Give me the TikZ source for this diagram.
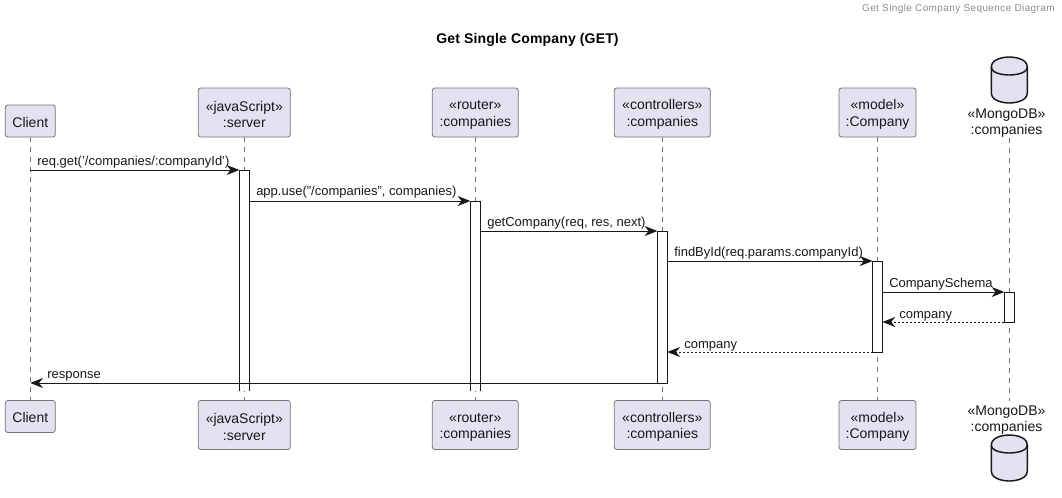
\documentclass[tikz,border=0pt]{standalone}
\usepackage{fontspec}
\setmainfont{Liberation Sans}
\usetikzlibrary{arrows.meta,shapes.geometric,calc}
\definecolor{partfill}{HTML}{E2E2F0}
\definecolor{ink}{HTML}{181818}
\newcommand{\tl}{\rule{0pt}{10.5pt}}
\tikzset{
  x=0.75pt,y=-0.75pt,
  part/.style={draw=ink!60,line width=0.6pt,fill=partfill,rounded corners=1.9pt,inner sep=0pt,align=center,font=\fontsize{10.5}{12.4}\selectfont,text=ink,minimum height=36.75pt},
  onepart/.style={part,minimum height=24pt},
  life/.style={draw=ink!60,line width=0.5pt,dash pattern=on 3.75pt off 3.75pt},
  bar/.style={draw=ink,line width=0.75pt,fill=white,minimum width=7.5pt,inner sep=0pt,outer sep=0pt,anchor=north},
  barline/.style={draw=ink,line width=0.75pt},
  msg/.style={draw=ink,line width=0.75pt,-{Stealth[length=9.5pt,width=7.5pt,inset=3pt,color=ink]}},
  rmsg/.style={msg,dash pattern=on 1.5pt off 1.5pt},
  lab/.style={font=\fontsize{9.75}{11.5}\selectfont,text=ink,inner sep=0pt,anchor=base west},
  dbname/.style={font=\fontsize{10.5}{12.4}\selectfont,text=ink,inner sep=0pt,align=center},
}
\newcommand{\dbcyl}[2]{%
  \path[fill=partfill,draw=ink,line width=1.1pt] (#1-18,#2+10) .. controls (#1-18,#2) and (#1,#2) .. (#1,#2) .. controls (#1,#2) and (#1+18,#2) .. (#1+18,#2+10)
    -- (#1+18,#2+36) .. controls (#1+18,#2+46) and (#1,#2+46) .. (#1,#2+46) .. controls (#1,#2+46) and (#1-18,#2+46) .. (#1-18,#2+36) -- cycle;
  \path[draw=ink,line width=1.1pt] (#1-18,#2+10) .. controls (#1-18,#2+18) and (#1,#2+18) .. (#1,#2+18) .. controls (#1,#2+18) and (#1+18,#2+18) .. (#1+18,#2+10);}
\begin{document}
\begin{tikzpicture}
\useasboundingbox[fill=white] (0,0) rectangle (1062,497);
\node[font=\fontsize{7.5}{9}\selectfont\addfontfeature{LetterSpace=4},text=gray!90,inner sep=0pt,anchor=base east] (hdr) at (1055,11) {Get Single Company Sequence Diagram};
\node[font=\bfseries\fontsize{10.5}{12}\selectfont\addfontfeature{LetterSpace=1.2},text=black,inner sep=0pt,anchor=base] (ttl) at (527.5,43) {Get Single Company (GET)};
% participants top
\node[onepart,minimum width=37.5pt] (clientT) at (30.3,121) {\rule{0pt}{9.5pt}Client};
\node[part,minimum width=69pt] (serverT) at (244.3,112.5) {\tl«javaScript»\\:server};
\node[part,minimum width=64.5pt] (routerT) at (475.3,112.5) {\tl«router»\\:companies};
\node[part,minimum width=72pt] (ctrlT) at (662.3,112.5) {\tl«controllers»\\:companies};
\node[part,minimum width=57.75pt] (modelT) at (877.5,112.5) {\tl«model»\\:Company};
\dbcyl{1009.3}{57}
\node[dbname] (dbT) at (1006.5,123) {«MongoDB»\\:companies};
\coordinate (dbTl) at (1009.3,138);
% participants bottom
\node[onepart,minimum width=37.5pt] (clientB) at (30.3,416.5) {\rule{0pt}{9.5pt}Client};
\node[part,minimum width=69pt] (serverB) at (244.3,425) {\tl«javaScript»\\:server};
\node[part,minimum width=64.5pt] (routerB) at (475.3,425) {\tl«router»\\:companies};
\node[part,minimum width=72pt] (ctrlB) at (662.3,425) {\tl«controllers»\\:companies};
\node[part,minimum width=57.75pt] (modelB) at (877.5,425) {\tl«model»\\:Company};
\node[dbname] (dbB) at (1006.5,420) {«MongoDB»\\:companies};
\coordinate (dbBl) at (1009.3,401);
\dbcyl{1009.3}{435}
% lifelines
\draw[life] (clientT) -- (clientB);
\draw[life] (serverT) -- (serverB);
\draw[life] (routerT) -- (routerB);
\draw[life] (ctrlT) -- (ctrlB);
\draw[life] (modelT) -- (modelB);
\draw[life] (dbTl) -- (dbBl);
% activations
\node[bar,minimum height=165.75pt,draw=none] (serverA) at (244.3,170) {};
\draw[barline] (serverA.south west) -- (serverA.north west) -- (serverA.north east) -- (serverA.south east);
\node[bar,minimum height=142.5pt,draw=none] (routerA) at (475.3,201) {};
\draw[barline] (routerA.south west) -- (routerA.north west) -- (routerA.north east) -- (routerA.south east);
\node[bar,minimum height=114pt] (ctrlA) at (662.3,231) {};
\node[bar,minimum height=68.25pt] (modelA) at (877.5,261) {};
\node[bar,minimum height=22.5pt] (dbA) at (1009.3,292) {};
% messages
\draw[msg] (clientT.south |- serverA.north west) -- (serverA.north west);
\node[lab] (l1) at (37,165) {req.get('/companies/:companyId')};
\draw[msg] (serverA.east |- routerA.north) -- (routerA.north west);
\node[lab] (l2) at (256,195.5) {app.use("/companies", companies)};
\draw[msg] (routerA.east |- ctrlA.north) -- (ctrlA.north west);
\node[lab] (l3) at (487,226) {getCompany(req, res, next)};
\draw[msg] (ctrlA.east |- modelA.north) -- (modelA.north west);
\node[lab] (l4) at (674,256) {findById(req.params.companyId)};
\draw[msg] (modelA.east |- dbA.north) -- (dbA.north west);
\node[lab] (l5) at (889,287) {CompanySchema};
\draw[rmsg] (dbA.south west) -- (modelA.east |- dbA.south);
\node[lab] (l6) at (899,318) {company};
\draw[rmsg] (modelA.south west) -- (ctrlA.east |- modelA.south);
\node[lab] (l7) at (684,348) {company};
\draw[msg] (ctrlA.south west) -- (clientT.south |- ctrlA.south);
\node[lab] (l8) at (47,378) {response};
\end{tikzpicture}
\end{document}
